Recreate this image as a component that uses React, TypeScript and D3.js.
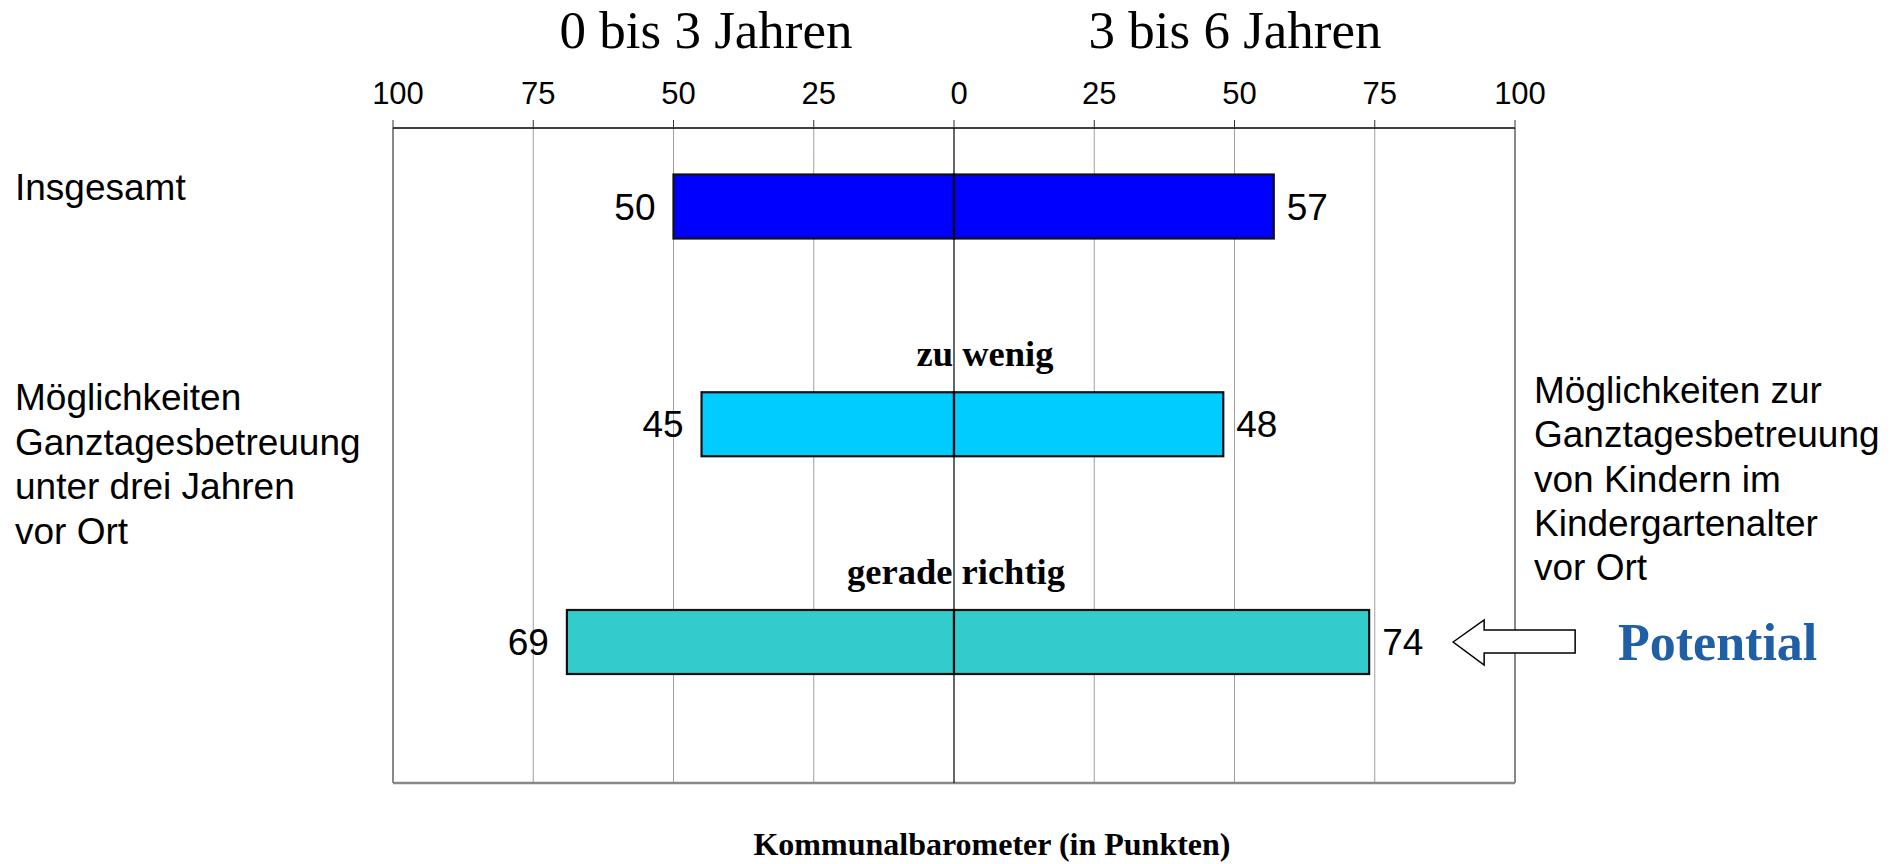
import React from "react";
import * as d3 from "d3";

const categories = ["Insgesamt", "zu wenig", "gerade richtig"];
const under3Values = [50, 45, 69];
const age3to6Values = [57, 48, 74];
const barColors = ["#0000FF", "#00CCFF", "#33CCCC"];
const tickValues = [-100, -75, -50, -25, 0, 25, 50, 75, 100];
const groupTitles = ["0 bis 3 Jahren", "3 bis 6 Jahren"];
const leftLabelTop = ["Insgesamt"];
const leftLabelBlock = ["Möglichkeiten", "Ganztagesbetreuung", "unter drei Jahren", "vor Ort"];
const rightLabelBlock = ["Möglichkeiten zur", "Ganztagesbetreuung", "von Kindern im", "Kindergartenalter", "vor Ort"];
const innerLabels = ["", "zu wenig", "gerade richtig"];
const axisTitle = "Kommunalbarometer (in Punkten)";
const potentialText = "Potential";

const W = 1901;
const H = 864;
const plot = { left: 393, right: 1515, top: 128, bottom: 783 };

export default function App() {
  const x = d3.scaleLinear().domain([-100, 100]).range([plot.left, plot.right]);
  const y = d3.scalePoint<string>().domain(categories).range([206.5, 642]);
  const barH = 64;
  const sans = "'Liberation Sans', Arial, sans-serif";
  const serif = "'Liberation Serif', 'Times New Roman', serif";

  const innerCenters = [0, 985, 956];
  const innerBaselineOffset = -58;

  const lastY = y(categories[2])!;
  const arrowTip = x(age3to6Values[2]) + 84;
  const arrow = [
    [arrowTip, lastY],
    [arrowTip + 31, lastY - 22],
    [arrowTip + 31, lastY - 12],
    [arrowTip + 122, lastY - 12],
    [arrowTip + 122, lastY + 11],
    [arrowTip + 31, lastY + 11],
    [arrowTip + 31, lastY + 23],
  ];

  return (
    <svg width={W} height={H} style={{ position: "absolute", left: 0, top: 0, background: "#fff" }}>
      <text x={706} y={48} fontFamily={serif} fontSize={53} textAnchor="middle" fill="#000">{groupTitles[0]}</text>
      <text x={1235} y={48} fontFamily={serif} fontSize={53} textAnchor="middle" fill="#000">{groupTitles[1]}</text>

      {tickValues.filter(t => t !== 0 && Math.abs(t) !== 100).map(t => (
        <line key={"g" + t} x1={x(t)} x2={x(t)} y1={plot.top} y2={plot.bottom} stroke="#a0a0a0" strokeWidth={1} />
      ))}
      <line x1={plot.left} x2={plot.left} y1={plot.top} y2={plot.bottom} stroke="#888" strokeWidth={2} />
      <line x1={plot.right} x2={plot.right} y1={plot.top} y2={plot.bottom} stroke="#888" strokeWidth={2} />
      <line x1={plot.left} x2={plot.right} y1={plot.bottom} y2={plot.bottom} stroke="#888" strokeWidth={2.5} />
      <line x1={plot.left} x2={plot.right} y1={plot.top} y2={plot.top} stroke="#000" strokeWidth={1.5} />

      {tickValues.map(t => (
        <g key={"t" + t}>
          <line x1={x(t)} x2={x(t)} y1={plot.top - 8} y2={plot.top} stroke="#333" strokeWidth={1} />
          <text x={x(t) + 5} y={104} fontFamily={sans} fontSize={31} textAnchor="middle" fill="#000">{Math.abs(t)}</text>
        </g>
      ))}

      {categories.map((c, i) => {
        const cy = y(c)!;
        return (
          <g key={c}>
            <rect x={x(-under3Values[i])} y={cy - barH / 2} width={x(0) - x(-under3Values[i])} height={barH}
              fill={barColors[i]} stroke="#111" strokeWidth={2.2} />
            <rect x={x(0)} y={cy - barH / 2} width={x(age3to6Values[i]) - x(0)} height={barH}
              fill={barColors[i]} stroke="#111" strokeWidth={2.2} />
            <text x={x(-under3Values[i]) - 18} y={cy + 13} fontFamily={sans} fontSize={37} textAnchor="end" fill="#000">{under3Values[i]}</text>
            <text x={x(age3to6Values[i]) + 13} y={cy + 13} fontFamily={sans} fontSize={37} textAnchor="start" fill="#000">{age3to6Values[i]}</text>
            {innerLabels[i] && (
              <text x={innerCenters[i]} y={cy + innerBaselineOffset} fontFamily={serif} fontWeight="bold" fontSize={36.5} textAnchor="middle" fill="#000">{innerLabels[i]}</text>
            )}
          </g>
        );
      })}

      <line x1={x(0)} x2={x(0)} y1={plot.top} y2={plot.bottom} stroke="#000" strokeWidth={1.2} />

      <text x={15} y={200} fontFamily={sans} fontSize={37} fill="#000">{leftLabelTop[0]}</text>
      <text fontFamily={sans} fontSize={37} fill="#000">
        {leftLabelBlock.map((l, i) => (
          <tspan key={i} x={15} y={410 + i * 44.5}>{l}</tspan>
        ))}
      </text>

      <text fontFamily={sans} fontSize={37} fill="#000">
        {rightLabelBlock.map((l, i) => (
          <tspan key={i} x={1534} y={403 + i * 44.3}>{l}</tspan>
        ))}
      </text>

      <polygon points={arrow.map(p => p.join(",")).join(" ")} fill="#fff" stroke="#000" strokeWidth={1.5} />
      <text x={1618} y={660} fontFamily={serif} fontWeight="bold" fontSize={52} fill="#1F5FA5">{potentialText}</text>

      <text x={992} y={855} fontFamily={serif} fontWeight="bold" fontSize={32} textAnchor="middle" fill="#000">{axisTitle}</text>
    </svg>
  );
}
